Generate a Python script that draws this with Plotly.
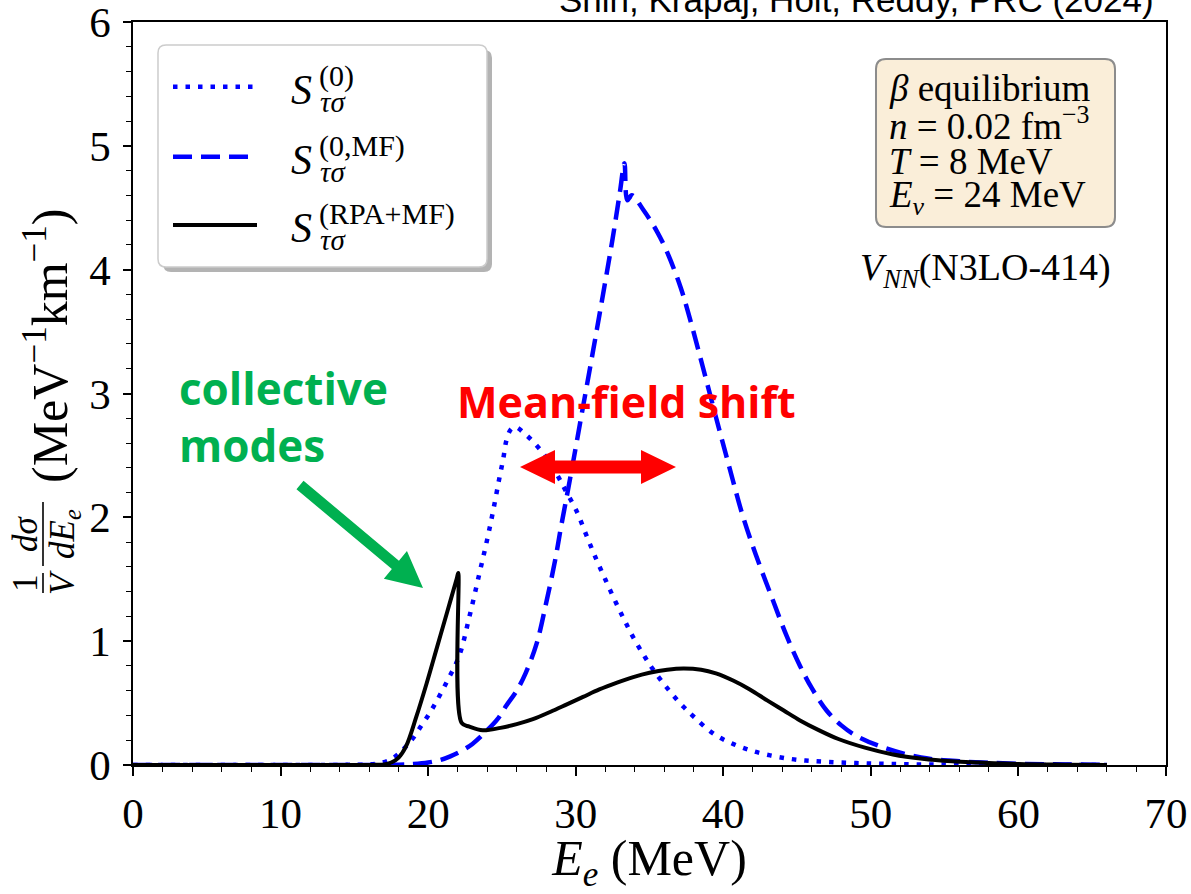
import plotly.graph_objects as go

# ---------------- data ----------------
e_s0 = [0, 10, 14, 15.5, 16.5, 17.4, 18.0, 18.5, 19.0, 19.5, 20.0, 20.5, 21.3, 22.1, 22.8,
        23.5, 24.0, 24.4, 24.8, 25.1, 25.3, 25.6, 25.9, 26.6, 27.35, 27.9, 28.8, 29.3, 30.06,
        30.74, 31.4, 32.0, 32.65, 33.3, 33.9, 34.7, 35.25, 36.27, 37.3, 38.0, 39.5, 41.8,
        44.5, 47.0, 50.0, 53, 56, 60, 66]
s_s0 = [0, 0, 0.001, 0.003, 0.01, 0.04, 0.09, 0.15, 0.22, 0.31, 0.40, 0.50, 0.68, 0.88, 1.20,
        1.56, 1.82, 2.05, 2.30, 2.48, 2.62, 2.71, 2.73, 2.67, 2.58, 2.50, 2.33, 2.22, 2.05,
        1.85, 1.66, 1.50, 1.33, 1.17, 1.03, 0.87, 0.77, 0.61, 0.47, 0.39, 0.24, 0.12,
        0.05, 0.025, 0.012, 0.005, 0.002, 0.001, 0]

e_mf = [0, 10, 15, 18, 19, 20, 20.8, 21.5, 22.2, 23.0, 24.0, 24.7, 25.3, 26.0, 26.6, 27.35,
        28.0, 28.6, 29.0, 29.6, 30.4, 31.2, 31.6, 32.1, 32.5, 33.0, 33.3, 33.5, 33.8, 34.6,
        35.5, 36.2, 37.1, 37.7, 38.6, 39.5, 40.4, 41.3, 42.2, 43.3, 44.3, 45.2, 46.0, 47.0,
        48.0, 49.1, 50.9, 53.4, 56, 60, 66]
s_mf = [0, 0, 0, 0.003, 0.008, 0.02, 0.04, 0.07, 0.11, 0.17, 0.28, 0.37, 0.48, 0.60, 0.74, 0.98,
        1.31, 1.65, 1.92, 2.30, 2.83, 3.36, 3.63, 3.97, 4.25, 4.63, 4.86, 4.56, 4.60, 4.48,
        4.31, 4.14, 3.86, 3.62, 3.22, 2.81, 2.41, 2.02, 1.70, 1.35, 1.04, 0.80, 0.62, 0.44,
        0.32, 0.23, 0.14, 0.06, 0.03, 0.01, 0.002]

e_rpa = [0, 10, 15, 16.5, 17.0, 17.5, 18.0, 18.5, 19.2, 19.9, 20.6, 21.3, 21.95, 22.04, 22.27,
         22.8, 23.7, 24.9, 26.0, 27.1, 28.3, 29.4, 30.5, 31.6, 32.8, 33.9, 35.0, 36.2, 37.3,
         38.5, 39.5, 40.7, 41.8, 43.0, 44.1, 45.2, 46.5, 47.8, 49.6, 51.5, 53.5, 55.5, 57.3,
         60, 63, 66]
s_rpa = [0, 0, 0, 0.002, 0.005, 0.02, 0.06, 0.15, 0.39, 0.66, 0.95, 1.24, 1.51, 1.55, 0.34,
         0.31, 0.28, 0.30, 0.33, 0.37, 0.43, 0.49, 0.55, 0.61, 0.665, 0.71, 0.745, 0.77, 0.78,
         0.77, 0.74, 0.68, 0.61, 0.52, 0.44, 0.36, 0.28, 0.21, 0.14, 0.085, 0.05, 0.03, 0.02,
         0.008, 0.003, 0.001]

x_ticks = [0, 10, 20, 30, 40, 50, 60, 70]
y_ticks = [0, 1, 2, 3, 4, 5, 6]

# ---------------- geometry helpers (pixels -> paper) ----------------
W, H = 1191, 894
L, R, T, B = 133, 25, 22, 129
PW, PH = W - L - R, H - T - B


def px(x):
    return (x - L) / PW


def py(y):
    return (H - B - y) / PH


def rrect(x0, y0, x1, y1, r):
    pts = [("M", x0 + r, y0), ("L", x1 - r, y0), ("Q", x1, y0, x1, y0 + r),
           ("L", x1, y1 - r), ("Q", x1, y1, x1 - r, y1), ("L", x0 + r, y1),
           ("Q", x0, y1, x0, y1 - r), ("L", x0, y0 + r), ("Q", x0, y0, x0 + r, y0)]
    s = ""
    for p in pts:
        c = p[0]
        vals = p[1:]
        coords = []
        for i in range(0, len(vals), 2):
            coords.append(f"{px(vals[i]):.5f},{py(vals[i+1]):.5f}")
        s += c + " " + " ".join(coords) + " "
    return s + "Z"


def poly(points):
    s = "M " + " L ".join(f"{px(a):.5f},{py(b):.5f}" for a, b in points)
    return s + " Z"


def arrow_pts(x0, y0, x1, y1, sw, hl, hw, double=False):
    import math
    dx, dy = x1 - x0, y1 - y0
    ln = math.hypot(dx, dy)
    ux, uy = dx / ln, dy / ln
    nx, ny = -uy, ux
    bx, by = x1 - hl * ux, y1 - hl * uy
    if double:
        ax, ay = x0 + hl * ux, y0 + hl * uy
        return [(x0, y0), (ax + hw * nx, ay + hw * ny), (ax + sw * nx, ay + sw * ny),
                (bx + sw * nx, by + sw * ny), (bx + hw * nx, by + hw * ny), (x1, y1),
                (bx - hw * nx, by - hw * ny), (bx - sw * nx, by - sw * ny),
                (ax - sw * nx, ay - sw * ny), (ax - hw * nx, ay - hw * ny)]
    return [(x0 + sw * nx, y0 + sw * ny), (bx + sw * nx, by + sw * ny),
            (bx + hw * nx, by + hw * ny), (x1, y1), (bx - hw * nx, by - hw * ny),
            (bx - sw * nx, by - sw * ny), (x0 - sw * nx, y0 - sw * ny)]


SERIF = "Liberation Serif"
SANS = "Liberation Sans"
BLUE = "#0000FF"
DOT = "4.5px,8px"
DASH = "19px,9px"

fig = go.Figure()
fig.add_trace(go.Scatter(x=e_s0, y=s_s0, mode="lines", name="S0",
                         line=dict(color=BLUE, width=4.5, dash=DOT, shape="spline", smoothing=1)))
fig.add_trace(go.Scatter(x=e_mf, y=s_mf, mode="lines", name="S0MF",
                         line=dict(color=BLUE, width=4.5, dash=DASH, shape="spline", smoothing=1)))
fig.add_trace(go.Scatter(x=e_rpa, y=s_rpa, mode="lines", name="RPA",
                         line=dict(color="black", width=4, shape="spline", smoothing=1)))

shapes = []
annos = []

# legend (custom, matplotlib-like with shadow)
shapes.append(dict(type="path", xref="paper", yref="paper", path=rrect(163, 50, 492, 272, 8),
                   fillcolor="#b3b3b3", line=dict(width=0), layer="above"))
shapes.append(dict(type="path", xref="paper", yref="paper", path=rrect(158, 45, 487, 267, 8),
                   fillcolor="white", line=dict(color="#cccccc", width=1.5), layer="above"))
leg_rows = [(86.7, DOT, BLUE, 4.5, "(0)"),
            (156.7, DASH, BLUE, 4.5, "(0,MF)"),
            (225.0, "solid", "black", 4, "(RPA+MF)")]
for yy, dsh, col, wd, sup in leg_rows:
    shapes.append(dict(type="line", xref="paper", yref="paper", x0=px(173), x1=px(257),
                       y0=py(yy), y1=py(yy), line=dict(color=col, width=wd, dash=dsh),
                       layer="above"))
    annos.append(dict(xref="paper", yref="paper", x=px(289), y=py(yy + 3), xanchor="left",
                      yanchor="middle", text="<i>S</i>", showarrow=False,
                      font=dict(family=SERIF, size=42, color="black")))
    annos.append(dict(xref="paper", yref="paper", x=px(318), y=py(yy + 15), xanchor="left",
                      yanchor="middle", text="<i>τσ</i>", showarrow=False,
                      font=dict(family=SERIF, size=29, color="black")))
    annos.append(dict(xref="paper", yref="paper", x=px(317), y=py(yy - 11), xanchor="left",
                      yanchor="middle", text=sup, showarrow=False,
                      font=dict(family=SERIF, size=30, color="black")))

# parameter box
shapes.append(dict(type="path", xref="paper", yref="paper", path=rrect(876, 59, 1115, 227, 10),
                   fillcolor="#FAEED9", line=dict(color="#8c8c8c", width=2), layer="above"))
box_lines = [(89, "<i>β</i> equilibrium"),
             (124, "<i>n</i> = 0.02 fm<sup>−3</sup>"),
             (161, "<i>T</i> = 8 MeV"),
             (198, "<i>E</i><sub><i>ν</i></sub> = 24 MeV")]
for yy, txt in box_lines:
    annos.append(dict(xref="paper", yref="paper", x=px(887), y=py(yy), xanchor="left",
                      yanchor="middle", text=txt, showarrow=False,
                      font=dict(family=SERIF, size=37, color="black")))
annos.append(dict(xref="paper", yref="paper", x=px(1113), y=py(270), xanchor="right",
                  yanchor="middle", text="<i>V</i><sub><i>NN</i></sub>(N3LO-414)",
                  showarrow=False, font=dict(family=SERIF, size=38, color="black")))

# coloured comments
annos.append(dict(xref="paper", yref="paper", x=px(177), y=py(417), xanchor="left",
                  yanchor="middle", text="<b>collective<br>modes</b>", align="left",
                  showarrow=False, font=dict(family="Open Sans", size=44, color="#00B050")))
annos.append(dict(xref="paper", yref="paper", x=px(626), y=py(401), xanchor="center",
                  yanchor="middle", text="<b>Mean-field shift</b>",
                  showarrow=False, font=dict(family="Open Sans", size=43, color="#FF0000")))
shapes.append(dict(type="path", xref="paper", yref="paper",
                   path=poly(arrow_pts(300, 485, 423, 588, 5.5, 36, 18)),
                   fillcolor="#00B050", line=dict(width=0), layer="above"))
shapes.append(dict(type="path", xref="paper", yref="paper",
                   path=poly(arrow_pts(520, 467, 676, 467, 6.5, 35, 17, double=True)),
                   fillcolor="#FF0000", line=dict(width=0), layer="above"))

# citation at top (cut by the page edge)
annos.append(dict(xref="paper", yref="paper", x=px(1156), y=py(0), xanchor="right",
                  yanchor="middle", text="Shin, Krapaj, Holt, Reddy, PRC (2024)",
                  showarrow=False, font=dict(family=SANS, size=35, color="black")))

# y-axis label (built from pieces to mimic the fractions)
annos.append(dict(xref="paper", yref="paper", x=px(46), y=py(346), textangle=-90,
                  xanchor="center", yanchor="middle",
                  text="(MeV<sup>−1</sup>km<sup>−1</sup>)", showarrow=False,
                  font=dict(family=SERIF, size=50, color="black")))
annos.append(dict(xref="paper", yref="paper", x=px(25), y=py(583), textangle=-90,
                  xanchor="center", yanchor="middle", text="1", showarrow=False,
                  font=dict(family=SERIF, size=35, color="black")))
annos.append(dict(xref="paper", yref="paper", x=px(62), y=py(583), textangle=-90,
                  xanchor="center", yanchor="middle", text="<i>V</i>", showarrow=False,
                  font=dict(family=SERIF, size=35, color="black")))
annos.append(dict(xref="paper", yref="paper", x=px(25), y=py(534), textangle=-90,
                  xanchor="center", yanchor="middle", text="<i>dσ</i>", showarrow=False,
                  font=dict(family=SERIF, size=35, color="black")))
annos.append(dict(xref="paper", yref="paper", x=px(64), y=py(534), textangle=-90,
                  xanchor="center", yanchor="middle", text="<i>dE</i><sub><i>e</i></sub>",
                  showarrow=False, font=dict(family=SERIF, size=35, color="black")))
for y0_, y1_ in [(573, 593), (502, 566)]:
    shapes.append(dict(type="line", xref="paper", yref="paper", x0=px(43), x1=px(43),
                       y0=py(y0_), y1=py(y1_), line=dict(color="black", width=1.6)))

axis_common = dict(showline=True, linecolor="black", linewidth=1.5, mirror=True,
                   ticks="outside", tickcolor="black", tickwidth=1.5, showgrid=False,
                   zeroline=False, automargin=False, ticklabeloverflow="allow",
                   tickfont=dict(family=SERIF, size=43, color="black"))

fig.update_layout(
    width=W, height=H, margin=dict(l=L, r=R, t=T, b=B),
    paper_bgcolor="white", plot_bgcolor="white", showlegend=False,
    shapes=shapes, annotations=annos,
    xaxis=dict(range=[0, 70], tickvals=x_ticks, ticktext=[str(v) for v in x_ticks],
               ticklen=9, ticklabelstandoff=1,
               minor=dict(dtick=2, ticklen=5, ticks="outside", tickcolor="black", tickwidth=1.2),
               title=dict(text="<i>E</i><sub><i>e</i></sub> (MeV)", standoff=4,
                          font=dict(family=SERIF, size=50, color="black")),
               **axis_common),
    yaxis=dict(range=[0, 6], tickvals=y_ticks, ticktext=[str(v) for v in y_ticks],
               ticklen=8, ticklabelstandoff=4,
               minor=dict(dtick=0.2, ticklen=5, ticks="outside", tickcolor="black", tickwidth=1.2),
               **axis_common),
)

fig.write_html("out.html", config=dict(displayModeBar=False),
               post_script="document.body.style.margin='0';document.body.style.overflow='hidden';")
